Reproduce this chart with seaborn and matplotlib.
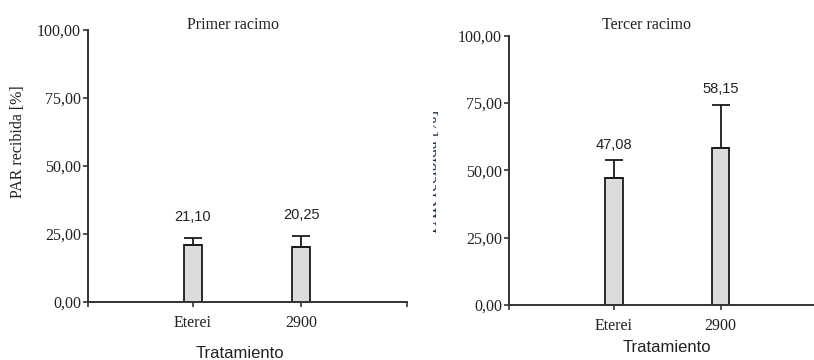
import numpy as np
import pandas as pd
import matplotlib
matplotlib.use("Agg")
import matplotlib.pyplot as plt
import seaborn as sns
from matplotlib.patches import Rectangle

# data
tratamientos = ["Eterei", "2900"]
primer_media = [21.10, 20.25]
primer_err = [2.5, 3.9]
tercer_media = [47.08, 58.15]
tercer_err = [6.6, 16.25]
yticks = [0, 25, 50, 75, 100]

sns.set_theme(style="white")
plt.rcParams["font.family"] = ["Liberation Serif", "DejaVu Serif"]

W, H = 814, 360
fig = plt.figure(figsize=(W / 100, H / 100), dpi=100)

def px_axes(x0, x1, ytop, ybot):
    return fig.add_axes([x0 / W, 1 - ybot / H, (x1 - x0) / W, (ybot - ytop) / H])

ax1 = px_axes(88, 407, 30, 302)
ax2 = px_axes(509, 814, 35.7, 305)

def panel(ax, medias, errs, titulo, xlim, end_tick, title_x, label_off, title_pad):
    df = pd.DataFrame({"Tratamiento": tratamientos, "PAR": medias})
    sns.barplot(data=df, x="Tratamiento", y="PAR", ax=ax, color="#dcdcdc",
                width=0.16, edgecolor="#1a1a1a", linewidth=1.3,
                errorbar=None, saturation=1)
    xs = np.arange(len(medias))
    ax.errorbar(xs, medias, yerr=[np.zeros(len(errs)), errs], fmt="none",
                ecolor="#1a1a1a", elinewidth=1.3, capsize=6.5, capthick=1.3,
                zorder=1)
    for x, m, e in zip(xs, medias, errs):
        ax.annotate(f"{m:.2f}".replace(".", ","), (x, m + e),
                    xytext=(0, label_off), textcoords="offset points",
                    ha="center", va="bottom", fontsize=10.5,
                    family=["Liberation Sans", "DejaVu Sans"], color="#222222")
    ax.set_xlim(*xlim)
    ax.set_ylim(0, 100)
    ax.set_yticks(yticks)
    ax.set_yticklabels([f"{v:.2f}".replace(".", ",") for v in yticks])
    if end_tick:
        ax.set_xticks([xlim[0], 0, 1, xlim[1]])
        ax.set_xticklabels(["", tratamientos[0], tratamientos[1], ""])
    else:
        ax.set_xticks([xlim[0], 0, 1])
        ax.set_xticklabels(["", tratamientos[0], tratamientos[1]])
    ax.set_xlabel("")
    ax.set_ylabel("")
    for s in ["top", "right"]:
        ax.spines[s].set_visible(False)
    for s in ["left", "bottom"]:
        ax.spines[s].set_color("#333333")
        ax.spines[s].set_linewidth(1.4)
    ax.tick_params(axis="both", direction="out", length=3.5, width=1.2,
                   color="#333333", labelsize=11.5, labelcolor="#222222",
                   bottom=True, left=True)
    ax.tick_params(axis="y", pad=1.5)
    ax.tick_params(axis="x", pad=6)
    ax.set_title(titulo, x=title_x, fontsize=11.5, color="#222222", pad=title_pad)

panel(ax1, primer_media, primer_err, "Primer racimo", (-0.972, 1.98), True, 0.455, 10, 1)
panel(ax2, tercer_media, tercer_err, "Tercer racimo", (-0.984, 1.875), False, 0.452, 6, 5)

fig.text(18 / W, 1 - 142 / H, "PAR recibida [%]", rotation=90, ha="center",
         va="center", fontsize=11.5, color="#222222")
# clipped axis title on the second panel
t = fig.text(433 / W, 1 - 171 / H, "PAR recibida [%]", rotation=90, ha="center",
             va="center", fontsize=12.5, color="#1f2a4a")
clip = Rectangle((433 / W, 0), 6 / W, 1, transform=fig.transFigure)
t.set_clip_path(clip)

sans = ["Liberation Sans", "DejaVu Sans"]
fig.text(240 / W, 1 - 353 / H, "Tratamiento", ha="center", va="center",
         fontsize=12, family=sans, color="#222222")
fig.text(667 / W, 1 - 347 / H, "Tratamiento", ha="center", va="center",
         fontsize=12, family=sans, color="#222222")

fig.savefig("out.png", dpi=100)
